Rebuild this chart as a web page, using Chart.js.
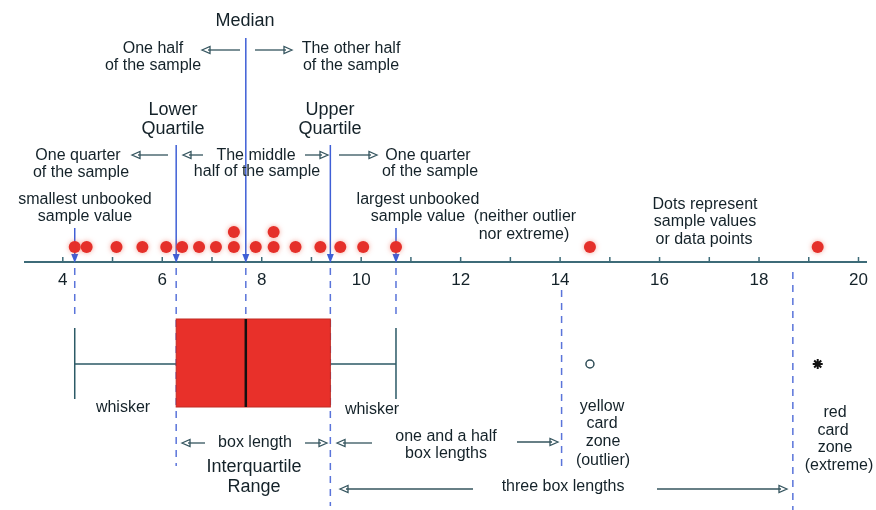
<!DOCTYPE html>
<html>
<head>
<meta charset="utf-8">
<script src="https://cdn.jsdelivr.net/npm/chart.js@4/dist/chart.umd.min.js"></script>
<style>
  body { margin: 0; background: #fff; }
  #wrap { width: 876px; height: 510px; }
</style>
</head>
<body>
<div id="wrap"><canvas id="chart"></canvas></div>
<script>
// sample values (stacked dots repeat the value)
const sampleValues = [4.24, 4.48, 5.08, 5.6, 6.08, 6.4, 6.74, 7.08, 7.44, 7.44, 7.88, 8.24, 8.24, 8.68, 9.18, 9.58, 10.04, 10.7, 14.6, 19.18];
const stackLevels  = [1, 1, 1, 1, 1, 1, 1, 1, 1, 2, 1, 1, 2, 1, 1, 1, 1, 1, 1, 1];

const tickValues = [4, 5, 6, 7, 8, 9, 10, 11, 12, 13, 14, 15, 16, 17, 18, 19, 20];
const tickLabels = ['4', '', '6', '', '8', '', '10', '', '12', '', '14', '', '16', '', '18', '', '20'];

const lowerQuartile = 6.28;
const medianValue = 7.68;
const upperQuartile = 9.38;
const whiskerLow = 4.24;
const whiskerHigh = 10.7;

const boxLength = upperQuartile - lowerQuartile;
const innerFence = upperQuartile + 1.5 * boxLength;
const outerFence = upperQuartile + 3 * boxLength;
const outlierValues = sampleValues.filter(v => v > innerFence && v <= outerFence);
const extremeValues = sampleValues.filter(v => v > outerFence);

const FONT = '"Liberation Sans", Arial, sans-serif';
const TEXT = '#142229';
const AXIS = '#3d6b78';
const BLUE = '#3f5fd6';
const boxRow = -6.8; // y level (in 15px units below the axis) of the box plot row

function arrow(ctx, x1, x2, y) {
  const dir = x2 > x1 ? 1 : -1;
  ctx.beginPath();
  ctx.moveTo(x1, y);
  ctx.lineTo(x2 - dir * 6, y);
  ctx.stroke();
  ctx.beginPath();
  ctx.moveTo(x2, y);
  ctx.lineTo(x2 - dir * 8, y - 3.5);
  ctx.lineTo(x2 - dir * 8, y + 3.5);
  ctx.closePath();
  ctx.stroke();
}

const diagram = {
  id: 'diagram',
  beforeDatasetsDraw(chart) {
    const ctx = chart.ctx;
    const xs = chart.scales.x;
    const px = v => xs.getPixelForValue(v);
    const axisY = chart.scales.y.getPixelForValue(0);
    const rowY = chart.scales.y.getPixelForValue(boxRow);
    ctx.save();

    // tick marks above the axis
    ctx.strokeStyle = AXIS;
    ctx.lineWidth = 1.5;
    xs.ticks.forEach(t => {
      ctx.beginPath();
      ctx.moveTo(px(t.value), axisY - 5);
      ctx.lineTo(px(t.value), axisY);
      ctx.stroke();
    });

    // solid pointer lines down to the axis
    const pointers = [[medianValue, 38], [lowerQuartile, 145], [upperQuartile, 145], [whiskerLow, 228], [whiskerHigh, 228]];
    ctx.strokeStyle = BLUE;
    ctx.fillStyle = BLUE;
    ctx.lineWidth = 1.5;
    pointers.forEach(([v, top]) => {
      const x = px(v);
      ctx.beginPath();
      ctx.moveTo(x, top);
      ctx.lineTo(x, axisY - 6);
      ctx.stroke();
      ctx.beginPath();
      ctx.moveTo(x, axisY + 1);
      ctx.lineTo(x - 3.5, axisY - 8);
      ctx.lineTo(x + 3.5, axisY - 8);
      ctx.closePath();
      ctx.fill();
    });

    // dashed guide lines below the axis
    const guides = [[whiskerLow, 268, 318], [lowerQuartile, 268, 466], [medianValue, 268, 318],
      [upperQuartile, 268, 506], [whiskerHigh, 268, 318], [innerFence, 290, 470], [outerFence, 272, 510]];
    ctx.strokeStyle = '#5a74da';
    ctx.setLineDash([7, 6]);
    guides.forEach(([v, y1, y2]) => {
      ctx.beginPath();
      ctx.moveTo(px(v), y1);
      ctx.lineTo(px(v), y2);
      ctx.stroke();
    });
    ctx.setLineDash([]);

    // whiskers
    ctx.strokeStyle = '#2c5a66';
    ctx.lineWidth = 1.5;
    ctx.beginPath();
    ctx.moveTo(px(whiskerLow), rowY); ctx.lineTo(px(lowerQuartile), rowY);
    ctx.moveTo(px(upperQuartile), rowY); ctx.lineTo(px(whiskerHigh), rowY);
    ctx.moveTo(px(whiskerLow), rowY - 36); ctx.lineTo(px(whiskerLow), rowY + 35);
    ctx.moveTo(px(whiskerHigh), rowY - 36); ctx.lineTo(px(whiskerHigh), rowY + 35);
    ctx.stroke();

    // box
    ctx.fillStyle = '#e8302a';
    ctx.fillRect(px(lowerQuartile), rowY - 45, px(upperQuartile) - px(lowerQuartile), 88);
    ctx.strokeStyle = '#c02a22';
    ctx.lineWidth = 1;
    ctx.strokeRect(px(lowerQuartile), rowY - 45, px(upperQuartile) - px(lowerQuartile), 88);
    ctx.strokeStyle = '#111';
    ctx.lineWidth = 2.5;
    ctx.beginPath();
    ctx.moveTo(px(medianValue), rowY - 45);
    ctx.lineTo(px(medianValue), rowY + 43);
    ctx.stroke();
    ctx.restore();
  },
  beforeDatasetDraw(chart, args) {
    if (args.index === 0) {
      chart.ctx.save();
      chart.ctx.shadowColor = 'rgba(235, 90, 70, 0.55)';
      chart.ctx.shadowBlur = 5;
    }
  },
  afterDatasetDraw(chart, args) {
    if (args.index === 0) chart.ctx.restore();
  },
  afterDraw(chart) {
    const ctx = chart.ctx;
    ctx.save();
    ctx.fillStyle = TEXT;
    ctx.textAlign = 'center';
    ctx.textBaseline = 'middle';
    const labels = [
      ['Median', 245, 21, 18],
      ['One half', 153, 49], ['of the sample', 153, 66],
      ['The other half', 351, 49], ['of the sample', 351, 66],
      ['Lower', 173, 110, 18], ['Quartile', 173, 129, 18],
      ['Upper', 330, 110, 18], ['Quartile', 330, 129, 18],
      ['One quarter', 78, 156], ['of the sample', 81, 173],
      ['The middle', 256, 156], ['half of the sample', 257, 172],
      ['One quarter', 428, 156], ['of the sample', 430, 172],
      ['smallest unbooked', 85, 200], ['sample value', 85, 217],
      ['largest unbooked', 418, 200], ['sample value', 418, 217],
      ['(neither outlier', 525, 217], ['nor extreme)', 524, 235],
      ['Dots represent', 705, 205], ['sample values', 705, 222], ['or data points', 704, 240],
      ['whisker', 123, 408], ['whisker', 372, 410],
      ['box length', 255, 443],
      ['Interquartile', 254, 467, 18], ['Range', 254, 487, 18],
      ['one and a half', 446, 437], ['box lengths', 446, 454],
      ['yellow', 602, 407], ['card', 602, 424], ['zone', 603, 442], ['(outlier)', 603, 461],
      ['three box lengths', 563, 487],
      ['red', 835, 413], ['card', 833, 431], ['zone', 835, 448], ['(extreme)', 839, 466]
    ];
    labels.forEach(([t, x, y, s]) => {
      ctx.font = (s || 16) + 'px ' + FONT;
      ctx.fillText(t, x, y);
    });

    ctx.strokeStyle = '#34545e';
    ctx.fillStyle = '#34545e';
    ctx.lineWidth = 1.3;
    const arrows = [
      [240, 202, 50], [255, 292, 50],
      [168, 132, 155], [203, 183, 155], [305, 328, 155], [339, 377, 155],
      [205, 182, 443], [305, 327, 443], [372, 337, 443], [517, 558, 442],
      [473, 340, 489], [657, 787, 489]
    ];
    arrows.forEach(([x1, x2, y]) => arrow(ctx, x1, x2, y));
    ctx.restore();
  }
};

new Chart(document.getElementById('chart'), {
  type: 'scatter',
  data: {
    datasets: [
      {
        label: 'Sample values',
        data: sampleValues.map((x, i) => ({ x, y: stackLevels[i] })),
        backgroundColor: '#e5302a',
        borderColor: '#e5302a',
        borderWidth: 0,
        pointRadius: 6,
        pointHoverRadius: 6
      },
      {
        label: 'Outlier',
        data: outlierValues.map(x => ({ x, y: boxRow })),
        pointStyle: 'circle',
        backgroundColor: '#fff',
        borderColor: '#2f4d57',
        borderWidth: 1.5,
        pointRadius: 4
      },
      {
        label: 'Extreme',
        data: extremeValues.map(x => ({ x, y: boxRow })),
        pointStyle: 'star',
        borderColor: '#111',
        borderWidth: 2,
        pointRadius: 5
      }
    ]
  },
  options: {
    responsive: true,
    maintainAspectRatio: false,
    animation: false,
    layout: { autoPadding: false, padding: { left: 25, right: 6, top: 0, bottom: 0 } },
    plugins: { legend: { display: false }, tooltip: { enabled: false } },
    scales: {
      x: {
        type: 'linear',
        min: 3.24,
        max: 20.16,
        position: { y: 0 },
        grid: { display: false, drawTicks: false },
        border: { color: AXIS, width: 2 },
        afterBuildTicks: scale => { scale.ticks = tickValues.map(v => ({ value: v })); },
        ticks: {
          autoSkip: false,
          maxRotation: 0,
          padding: 8,
          color: TEXT,
          font: { family: FONT, size: 17 },
          callback: value => tickLabels[tickValues.indexOf(value)]
        }
      },
      y: {
        type: 'linear',
        display: false,
        min: -248 / 15,
        max: 262 / 15
      }
    }
  },
  plugins: [diagram]
});
</script>
</body>
</html>
